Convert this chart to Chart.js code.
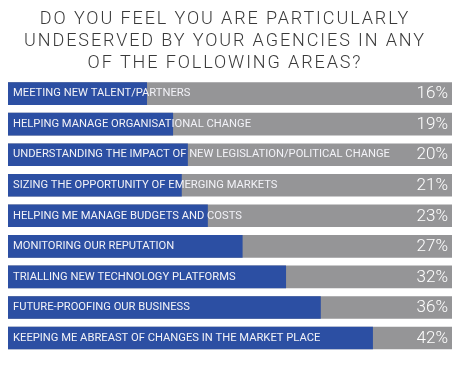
<!DOCTYPE html>
<html>
<head>
<meta charset="utf-8">
<script src="https://cdn.jsdelivr.net/npm/chart.js@4"></script>
<style>
  html, body { margin: 0; padding: 0; background: #ffffff; }
  #wrap { width: 460px; height: 365px; position: relative; }
</style>
</head>
<body>
<div id="wrap"><canvas id="c" width="460" height="365"></canvas></div>
<script>
const titleLines = [
  'DO YOU FEEL YOU ARE PARTICULARLY',
  'UNDESERVED BY YOUR AGENCIES IN ANY',
  'OF THE FOLLOWING AREAS?'
];
const categories = [
  'MEETING NEW TALENT/PARTNERS',
  'HELPING MANAGE ORGANISATIONAL CHANGE',
  'UNDERSTANDING THE IMPACT OF NEW LEGISLATION/POLITICAL CHANGE',
  'SIZING THE OPPORTUNITY OF EMERGING MARKETS',
  'HELPING ME MANAGE BUDGETS AND COSTS',
  'MONITORING OUR REPUTATION',
  'TRIALLING NEW TECHNOLOGY PLATFORMS',
  'FUTURE-PROOFING OUR BUSINESS',
  'KEEPING ME ABREAST OF CHANGES IN THE MARKET PLACE'
];
const values = [16, 19, 20.7, 20, 23, 27, 32, 36, 42];
const valueLabels = ['16%', '19%', '20%', '21%', '23%', '27%', '32%', '36%', '42%'];
const trackMax = 51.1;

const BLUE = '#2c4fa3';
const GREY = '#959597';

const spacingPlugin = {
  id: 'titleSpacing',
  beforeDraw(chart) { chart.ctx.letterSpacing = '1.9px'; },
  beforeDatasetsDraw(chart) { chart.ctx.letterSpacing = '0px'; }
};

const valueLabelPlugin = {
  id: 'valueLabels',
  afterDraw(chart) {
    const ctx = chart.ctx;
    const yScale = chart.scales.y;
    ctx.save();
    ctx.letterSpacing = '0px';
    ctx.fillStyle = '#ffffff';
    ctx.font = '300 17px Roboto';
    ctx.textAlign = 'right';
    ctx.textBaseline = 'middle';
    valueLabels.forEach((txt, i) => {
      ctx.fillText(txt, chart.chartArea.right - 4, yScale.getPixelForValue(i) + 0.5);
    });
    ctx.restore();
  }
};

new Chart(document.getElementById('c'), {
  type: 'bar',
  data: {
    labels: categories,
    datasets: [
      {
        label: 'Share',
        data: values,
        backgroundColor: BLUE,
        order: 0,
        grouped: false,
        categoryPercentage: 1,
        barPercentage: 0.74
      },
      {
        label: 'Track',
        data: categories.map(() => trackMax),
        backgroundColor: GREY,
        order: 1,
        grouped: false,
        categoryPercentage: 1,
        barPercentage: 0.74
      }
    ]
  },
  options: {
    indexAxis: 'y',
    responsive: false,
    animation: false,
    layout: { padding: { left: -2, right: 8, top: 0, bottom: 4.3 } },
    plugins: {
      legend: { display: false },
      tooltip: { enabled: false },
      title: {
        display: true,
        text: titleLines,
        color: '#3a3a3a',
        font: { family: 'Roboto', size: 18, weight: '300', lineHeight: 1.2 },
        padding: { top: 9, bottom: 4.5 }
      }
    },
    scales: {
      x: { display: false, min: 0, max: trackMax },
      y: {
        position: 'left',
        grid: { display: false, drawTicks: false },
        border: { display: false },
        ticks: {
          z: 1,
          mirror: true,
          padding: 5,
          color: '#f2f2f7',
          font: { family: 'Roboto', size: 11.2, weight: '400' }
        }
      }
    }
  },
  plugins: [spacingPlugin, valueLabelPlugin]
});
</script>
</body>
</html>
